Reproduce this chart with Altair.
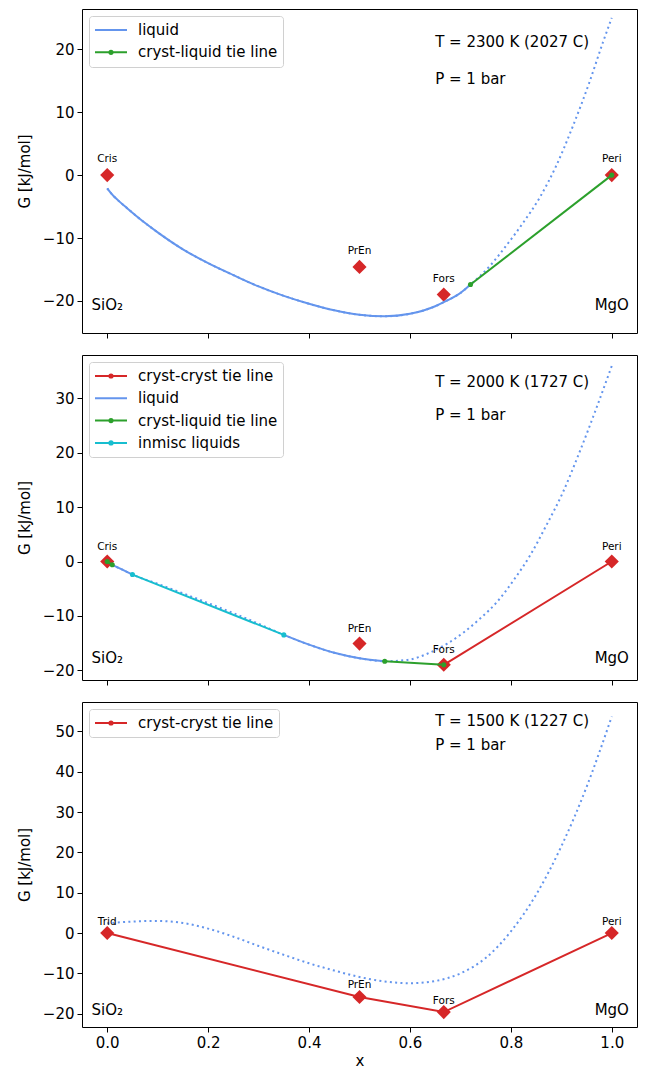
import altair as alt
import pandas as pd

FONT = "DejaVu Sans"
C_RED = "#d62728"
C_GREEN = "#2ca02c"
C_CYAN = "#17becf"
C_LIQ = "#6495ed"

# ---------------- data ----------------
# Panel 1: T = 2300 K
p1_liq_x = [0.0, 0.01, 0.02, 0.04, 0.07, 0.1, 0.15, 0.2, 0.25, 0.3, 0.35, 0.4, 0.45, 0.5, 0.55,
            0.6, 0.65, 0.667, 0.7, 0.72, 0.76, 0.79, 0.825, 0.857, 0.89, 0.923, 0.955, 0.982, 1.0]
p1_liq_g = [-2.1, -3.1, -3.9, -5.3, -7.3, -9.1, -11.8, -14.0, -15.9, -17.7, -19.2, -20.45, -21.5,
            -22.2, -22.45, -22.05, -20.85, -20.2, -18.75, -17.4, -14.3, -11.3, -7.5, -3.6, 1.5,
            7.8, 14.6, 21.0, 25.0]
p1_stable = [(0.0, 0.72)]
p1_cryst_name = ["Cris", "PrEn", "Fors", "Peri"]
p1_cryst_x = [0.0, 0.5, 0.667, 1.0]
p1_cryst_g = [0.0, -14.6, -19.0, 0.0]
p1_tie_series = ["cryst-liquid tie line", "cryst-liquid tie line"]
p1_tie_seg = [0, 0]
p1_tie_x = [0.72, 1.0]
p1_tie_g = [-17.4, 0.0]
p1_series = ["liquid", "cryst-liquid tie line"]
p1_colors = [C_LIQ, C_GREEN]
p1_title = ["T = 2300 K (2027 C)", "P = 1 bar"]
p1_title_g = [21.2, 15.2]
p1_end_g = -20.6
p1_ydomain = [-25.1, 26.4]
p1_yticks = [-20, -10, 0, 10, 20]

# Panel 2: T = 2000 K
p2_liq_x = [0.0, 0.01, 0.03, 0.05, 0.1, 0.15, 0.2, 0.25, 0.3, 0.35, 0.4, 0.45, 0.5, 0.55, 0.595,
            0.641, 0.674, 0.707, 0.739, 0.772, 0.805, 0.838, 0.87, 0.903, 0.936, 0.969, 1.0]
p2_liq_g = [0.0, -0.6, -1.5, -2.4, -4.1, -5.85, -7.65, -9.5, -11.45, -13.5, -15.3, -16.8, -17.8,
            -18.35, -18.1, -16.7, -15.1, -13.0, -10.5, -7.5, -3.5, 1.1, 6.6, 12.7, 20.1, 28.1,
            36.0]
p2_stable = [(0.01, 0.05), (0.35, 0.55)]
p2_cryst_name = ["Cris", "PrEn", "Fors", "Peri"]
p2_cryst_x = [0.0, 0.5, 0.667, 1.0]
p2_cryst_g = [0.0, -15.1, -19.0, 0.0]
p2_tie_series = ["cryst-cryst tie line", "cryst-cryst tie line",
                 "cryst-liquid tie line", "cryst-liquid tie line",
                 "cryst-liquid tie line", "cryst-liquid tie line",
                 "inmisc liquids", "inmisc liquids"]
p2_tie_seg = [0, 0, 1, 1, 2, 2, 3, 3]
p2_tie_x = [0.667, 1.0, 0.0, 0.01, 0.55, 0.667, 0.05, 0.35]
p2_tie_g = [-19.0, 0.0, 0.0, -0.6, -18.35, -19.0, -2.4, -13.5]
p2_series = ["cryst-cryst tie line", "liquid", "cryst-liquid tie line", "inmisc liquids"]
p2_colors = [C_RED, C_LIQ, C_GREEN, C_CYAN]
p2_title = ["T = 2000 K (1727 C)", "P = 1 bar"]
p2_title_g = [33.0, 27.0]
p2_end_g = -17.8
p2_ydomain = [-21.8, 38.0]
p2_yticks = [-20, -10, 0, 10, 20, 30]

# Panel 3: T = 1500 K
p3_liq_x = [0.0, 0.05, 0.1, 0.15, 0.2, 0.25, 0.3, 0.35, 0.4, 0.45, 0.5, 0.55, 0.6, 0.65, 0.7,
            0.75, 0.8, 0.85, 0.9, 0.95, 1.0]
p3_liq_g = [2.4, 2.85, 3.0, 2.5, 1.1, -0.9, -3.2, -5.4, -7.5, -9.3, -10.9, -12.0, -12.45, -11.9,
            -10.0, -6.2, 0.4, 9.5, 21.5, 36.2, 53.7]
p3_stable = []
p3_cryst_name = ["Trid", "PrEn", "Fors", "Peri"]
p3_cryst_x = [0.0, 0.5, 0.667, 1.0]
p3_cryst_g = [0.0, -15.85, -19.6, 0.0]
p3_tie_series = ["cryst-cryst tie line"] * 4
p3_tie_seg = [0, 0, 0, 0]
p3_tie_x = [0.0, 0.5, 0.667, 1.0]
p3_tie_g = [0.0, -15.85, -19.6, 0.0]
p3_series = ["cryst-cryst tie line"]
p3_colors = [C_RED]
p3_title = ["T = 1500 K (1227 C)", "P = 1 bar"]
p3_title_g = [52.6, 46.6]
p3_end_g = -19.1
p3_ydomain = [-23.3, 57.3]
p3_yticks = [-20, -10, 0, 10, 20, 30, 40, 50]

end_labels = ["SiO₂", "MgO"]
end_x = [0.0, 1.0]
title_x = 0.65
x_domain = [-0.05, 1.05]
x_ticks = [0.0, 0.2, 0.4, 0.6, 0.8, 1.0]

LINE_PATH = "M-1,0H1"
DOT_PATH = "M-1,0H1M-0.1,0A0.1,0.1,0,1,1,0.1,0A0.1,0.1,0,1,1,-0.1,0Z"
PLOT_W = 555


def color_expr(series, colors):
    expr = "'black'"
    for s, c in reversed(list(zip(series, colors))):
        expr = f"datum.value === '{s}' ? '{c}' : ({expr})"
    return expr


def panel(liq_x, liq_g, stable, cn, cx, cg, ts, tseg, tx, tg, series, colors,
          title, title_g, end_g, ydomain, yticks, label_dy, bottom, height):
    xs = alt.Scale(domain=x_domain, nice=False, zero=False)
    ys = alt.Scale(domain=ydomain, nice=False, zero=False)
    if bottom:
        xaxis = alt.Axis(values=x_ticks, format=".1f", title="x", grid=False, domain=False,
                         tickSize=5, labelPadding=3, titlePadding=3)
    else:
        xaxis = alt.Axis(values=x_ticks, labels=False, title=None, grid=False, domain=False,
                         tickSize=5)
    yaxis = alt.Axis(values=yticks, title="G [kJ/mol]", grid=False, domain=False, tickSize=5,
                     labelPadding=3, titlePadding=10)
    X = alt.X("x:Q", scale=xs, axis=xaxis)
    Y = alt.Y("g:Q", scale=ys, axis=yaxis)
    Xn = alt.X("x:Q", scale=xs)
    Yn = alt.Y("g:Q", scale=ys)

    legend = alt.Legend(
        title=None, orient="top-left", offset=7, symbolSize=1024, symbolStrokeWidth=2,
        labelFont=FONT, labelFontSize=15, labelColor="black", labelOffset=10,
        clipHeight=18, rowPadding=4.3, padding=5, strokeColor="#d0d0d0", fillColor="white",
        cornerRadius=3, labelLimit=400, symbolOpacity=1,
        symbolType={"expr": f"datum.value === 'liquid' ? '{LINE_PATH}' : '{DOT_PATH}'"},
        symbolStrokeColor={"expr": color_expr(series, colors)},
        symbolFillColor={"expr": color_expr(series, colors)},
    )
    cscale = alt.Scale(domain=series, range=colors)

    liq = pd.DataFrame({"x": liq_x, "g": liq_g})
    dotted = alt.Chart(liq).mark_line(color=C_LIQ, strokeWidth=2, strokeDash=[2, 3.3],
                                      interpolate="monotone").encode(x=X, y=Y)
    layers = [dotted]

    cr = pd.DataFrame({"name": cn, "x": cx, "g": cg})
    diam = alt.Chart(cr).mark_point(shape="diamond", filled=True, size=200, color=C_RED,
                                    opacity=1).encode(x=Xn, y=Yn)
    lab = alt.Chart(cr).mark_text(font=FONT, fontSize=10.5, dy=label_dy, baseline="middle",
                                  color="black").encode(x=Xn, y=Yn, text="name:N")
    layers += [diam, lab]

    if stable:
        rows = []
        for i, (a, b) in enumerate(stable):
            for xv, gv in zip(liq_x, liq_g):
                if a - 1e-9 <= xv <= b + 1e-9:
                    rows.append({"x": xv, "g": gv, "seg": i, "series": "liquid"})
        sdf = pd.DataFrame(rows)
        solid = alt.Chart(sdf).mark_line(strokeWidth=2, interpolate="monotone").encode(
            x=Xn, y=Yn, detail="seg:N",
            color=alt.Color("series:N", scale=cscale, legend=legend))
        layers.append(solid)

    tdf = pd.DataFrame({"series": ts, "seg": tseg, "x": tx, "g": tg})
    tl = alt.Chart(tdf).mark_line(strokeWidth=2).encode(
        x=Xn, y=Yn, detail="seg:N",
        color=alt.Color("series:N", scale=cscale, legend=legend))
    tp = alt.Chart(tdf).mark_circle(size=26, opacity=1).encode(
        x=Xn, y=Yn, color=alt.Color("series:N", scale=cscale, legend=legend))
    layers += [tl, tp]

    ann = pd.DataFrame({"t": title, "x": [title_x, title_x], "g": title_g})
    annt = alt.Chart(ann).mark_text(font=FONT, fontSize=15, align="left", baseline="middle",
                                    color="black").encode(x=Xn, y=Yn, text="t:N")
    ends = pd.DataFrame({"t": end_labels, "x": end_x, "g": [end_g, end_g]})
    endt = alt.Chart(ends).mark_text(font=FONT, fontSize=15, align="center", baseline="middle",
                                     color="black").encode(x=Xn, y=Yn, text="t:N")
    layers += [annt, endt]

    return alt.layer(*layers).properties(width=PLOT_W, height=height)


c1 = panel(p1_liq_x, p1_liq_g, p1_stable, p1_cryst_name, p1_cryst_x, p1_cryst_g, p1_tie_series,
           p1_tie_seg, p1_tie_x, p1_tie_g, p1_series, p1_colors, p1_title, p1_title_g, p1_end_g,
           p1_ydomain, p1_yticks, -16, False, 324)
c2 = panel(p2_liq_x, p2_liq_g, p2_stable, p2_cryst_name, p2_cryst_x, p2_cryst_g, p2_tie_series,
           p2_tie_seg, p2_tie_x, p2_tie_g, p2_series, p2_colors, p2_title, p2_title_g, p2_end_g,
           p2_ydomain, p2_yticks, -14.5, False, 325)
c3 = panel(p3_liq_x, p3_liq_g, p3_stable, p3_cryst_name, p3_cryst_x, p3_cryst_g, p3_tie_series,
           p3_tie_seg, p3_tie_x, p3_tie_g, p3_series, p3_colors, p3_title, p3_title_g, p3_end_g,
           p3_ydomain, p3_yticks, -11.5, True, 325)

chart = alt.vconcat(c1, c2, c3, spacing=22, bounds="flush").resolve_scale(
    color="independent", x="independent", y="independent"
).resolve_legend(color="independent").properties(
    padding={"left": 8, "top": 0, "right": 0, "bottom": 0}
).configure(background="white").configure_view(
    stroke="black", strokeWidth=1
).configure_axis(
    labelFont=FONT, labelFontSize=15, labelColor="black", titleFont=FONT, titleFontSize=15,
    titleFontWeight="normal", titleColor="black", tickColor="black", tickWidth=1
)

chart.save("out.html", embed_options={"renderer": "svg", "actions": False})
